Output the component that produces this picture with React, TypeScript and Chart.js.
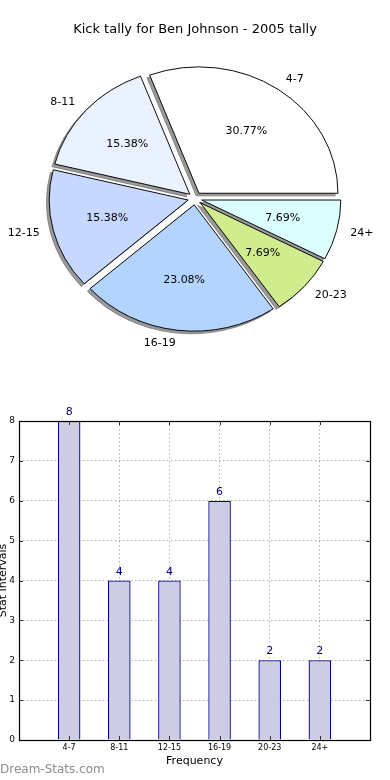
import React, { useEffect, useRef } from 'react';
import { Chart, registerables } from 'chart.js';

Chart.register(...registerables);

const chartTitle = 'Kick tally for Ben Johnson - 2005 tally';
const categories = ['4-7', '8-11', '12-15', '16-19', '20-23', '24+'];
const counts = [8, 4, 4, 6, 2, 2];
const pieColors = ['#ffffff', '#eaf1ff', '#c6d8ff', '#b3d4ff', '#d0ec8c', '#dcffff'];
const yMin = 0;
const yMax = 8;
const xTitle = 'Frequency';
const yTitle = 'Stat Intervals';
const watermark = 'Dream-Stats.com';

const FONT = "'DejaVu Sans', sans-serif";
const SY = 0.909; // vertical squash of the pie (non-equal aspect axes)
const EXPLODE = 7;
const SHADOW_DX = -2.8;
const SHADOW_DY = 2.6;

const piePlugin = {
  id: 'mplPie',
  beforeDatasetsDraw(chart: any) {
    const ctx = chart.ctx as CanvasRenderingContext2D;
    const arcs = chart.getDatasetMeta(0).data as any[];
    ctx.save();
    if (!arcs.length) return;
    const cx = arcs[0].x;
    const cy = arcs[0].y;
    ctx.translate(cx, cy);
    ctx.scale(1, SY);
    ctx.translate(-cx, -cy);
    arcs.forEach((arc) => {
      const half = (arc.startAngle + arc.endAngle) / 2;
      const ox = Math.cos(half) * EXPLODE + SHADOW_DX;
      const oy = Math.sin(half) * EXPLODE + SHADOW_DY / SY;
      ctx.beginPath();
      ctx.moveTo(cx + ox, cy + oy);
      ctx.arc(cx + ox, cy + oy, arc.outerRadius, arc.startAngle, arc.endAngle);
      ctx.closePath();
      ctx.fillStyle = '#999999';
      ctx.fill();
      ctx.strokeStyle = '#777777';
      ctx.lineWidth = 0.8;
      ctx.stroke();
      if (!arc._exploded) {
        const orig = arc.draw;
        arc.draw = function (c: CanvasRenderingContext2D, area: any) {
          const h = (this.startAngle + this.endAngle) / 2;
          c.save();
          c.translate(Math.cos(h) * EXPLODE, Math.sin(h) * EXPLODE);
          orig.call(this, c, area);
          c.restore();
        };
        arc._exploded = true;
      }
    });
  },
  afterDatasetsDraw(chart: any) {
    chart.ctx.restore();
  },
  afterDraw(chart: any) {
    const ctx = chart.ctx as CanvasRenderingContext2D;
    const arcs = chart.getDatasetMeta(0).data as any[];
    const values = chart.data.datasets[0].data as number[];
    const labels = chart.data.labels as string[];
    const total = values.reduce((a, b) => a + b, 0);
    ctx.save();
    ctx.fillStyle = '#000';
    ctx.font = `13px ${FONT}`;
    ctx.textAlign = 'center';
    ctx.textBaseline = 'middle';
    ctx.fillText(chartTitle, 195, 30);
    ctx.font = `11px ${FONT}`;
    arcs.forEach((arc, i) => {
      const half = (arc.startAngle + arc.endAngle) / 2;
      const dx = Math.cos(half);
      const dy = Math.sin(half);
      const R = arc.outerRadius;
      const lx = arc.x + (1.1 * R + EXPLODE) * dx;
      const ly = arc.y + (1.1 * R + EXPLODE) * dy * SY;
      ctx.textAlign = dx > 0 ? 'left' : 'right';
      ctx.fillText(labels[i], lx, ly);
      const px = arc.x + (0.6 * R + EXPLODE) * dx;
      const py = arc.y + (0.6 * R + EXPLODE) * dy * SY;
      ctx.textAlign = 'center';
      ctx.fillText(((values[i] / total) * 100).toFixed(2) + '%', px, py);
    });
    ctx.restore();
  },
};

const barPlugin = {
  id: 'mplBars',
  afterDraw(chart: any) {
    const ctx = chart.ctx as CanvasRenderingContext2D;
    const { left, right, top, bottom } = chart.chartArea;
    const xs = chart.scales.x;
    const ys = chart.scales.y;
    ctx.save();
    // inward tick marks
    ctx.strokeStyle = '#333';
    ctx.lineWidth = 1;
    ctx.beginPath();
    for (let v = yMin; v <= yMax; v++) {
      const y = Math.round(ys.getPixelForValue(v)) + 0.5;
      ctx.moveTo(left, y);
      ctx.lineTo(left + 4, y);
      ctx.moveTo(right, y);
      ctx.lineTo(right - 4, y);
    }
    categories.forEach((_, i) => {
      const x = Math.round(xs.getPixelForValue(i)) + 0.5;
      ctx.moveTo(x, bottom);
      ctx.lineTo(x, bottom - 4);
      ctx.moveTo(x, top);
      ctx.lineTo(x, top + 4);
    });
    ctx.stroke();
    // frame
    ctx.strokeStyle = '#000';
    ctx.lineWidth = 1.2;
    ctx.strokeRect(Math.round(left) + 0.5, Math.round(top) + 0.5, Math.round(right - left), Math.round(bottom - top));
    // value labels
    const bars = chart.getDatasetMeta(0).data as any[];
    ctx.fillStyle = '#00008b';
    ctx.font = `11px ${FONT}`;
    ctx.textAlign = 'center';
    ctx.textBaseline = 'alphabetic';
    bars.forEach((bar, i) => {
      ctx.fillText(String(counts[i]), bar.x, bar.y - 6);
    });
    ctx.restore();
  },
};

export default function App() {
  const pieRef = useRef<HTMLCanvasElement>(null);
  const barRef = useRef<HTMLCanvasElement>(null);

  useEffect(() => {
    const revLabels = [...categories].reverse();
    const revCounts = [...counts].reverse();
    const revColors = [...pieColors].reverse();
    const pie = new Chart(pieRef.current!, {
      type: 'pie',
      data: {
        labels: revLabels,
        datasets: [
          {
            data: revCounts,
            backgroundColor: revColors,
            borderColor: '#000',
            borderWidth: 1,
          },
        ],
      },
      options: {
        responsive: false,
        animation: false,
        events: [],
        rotation: 90,
        radius: 139,
        layout: { padding: { left: 0, right: 0, top: 7, bottom: 0 } },
        plugins: { legend: { display: false }, tooltip: { enabled: false }, title: { display: false } },
      } as any,
      plugins: [piePlugin],
    });

    const bar = new Chart(barRef.current!, {
      type: 'bar',
      data: {
        datasets: [
          {
            data: counts.map((v, i) => ({ x: i, y: v })),
            backgroundColor: '#ccccE2',
            borderColor: '#00008b',
            borderWidth: 1.3,
            barPercentage: 0.45,
            categoryPercentage: 1,
          },
        ],
      },
      options: {
        responsive: false,
        animation: false,
        events: [],
        layout: { padding: { left: 0, right: 20, top: 21, bottom: 0 } },
        plugins: { legend: { display: false }, tooltip: { enabled: false } },
        scales: {
          x: {
            type: 'linear',
            min: -1,
            max: categories.length,
            offset: false,
            z: 1,
            afterFit: (s: any) => {
              s.height = 40;
            },
            ticks: {
              stepSize: 1,
              autoSkip: false,
              maxRotation: 0,
              padding: 3,
              color: '#000',
              font: { family: FONT, size: 8 },
              callback: (v: any) => categories[v as number] ?? '',
            },
            grid: { color: '#b0b0b0', drawTicks: false, lineWidth: 1, offset: false },
            border: { display: false, dash: [1.5, 2.5] },
            title: {
              display: true,
              text: xTitle,
              color: '#000',
              font: { family: FONT, size: 11 },
              padding: { top: 0, bottom: 12.4 },
            },
          },
          y: {
            min: yMin,
            max: yMax,
            z: 1,
            afterFit: (s: any) => {
              s.width = 24;
            },
            ticks: {
              stepSize: 1,
              padding: 4,
              color: '#000',
              font: { family: FONT, size: 9 },
            },
            grid: { color: '#b0b0b0', drawTicks: false, lineWidth: 1 },
            border: { display: false, dash: [1.5, 2.5] },
            title: {
              display: true,
              text: yTitle,
              color: '#000',
              font: { family: FONT, size: 11 },
              padding: { top: 1.4, bottom: 0 },
            },
          },
        },
      } as any,
      plugins: [barPlugin],
    });

    return () => {
      pie.destroy();
      bar.destroy();
    };
  }, []);

  return (
    <div style={{ position: 'absolute', left: 0, top: 0, width: 390, height: 780, overflow: 'hidden', background: '#fff' }}>
      <canvas ref={pieRef} width={390} height={390} style={{ position: 'absolute', left: 0, top: 0 }} />
      <canvas ref={barRef} width={395} height={380} style={{ position: 'absolute', left: -5, top: 400 }} />
      <div
        style={{
          position: 'absolute',
          left: 0,
          top: 762,
          fontFamily: FONT,
          fontSize: 12,
          color: '#8c8c8c',
          lineHeight: '14px',
          whiteSpace: 'nowrap',
        }}
      >
        {watermark}
      </div>
    </div>
  );
}
